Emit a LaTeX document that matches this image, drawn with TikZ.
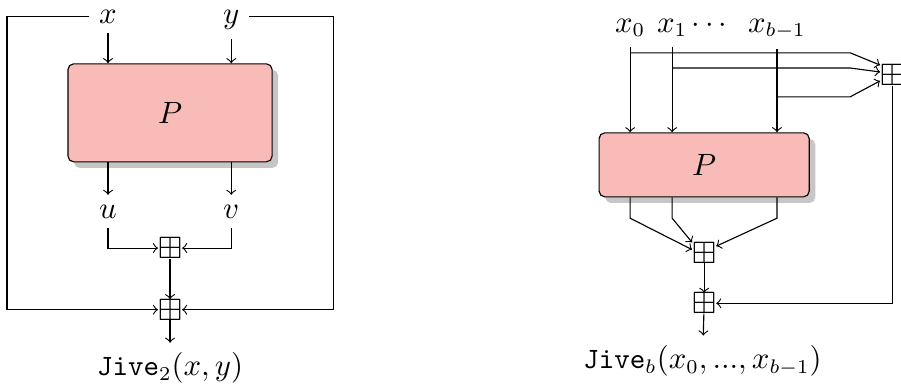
\documentclass[tikz,border=0pt]{standalone}
\usepackage{amsmath,amssymb}
\usetikzlibrary{shadows}
\definecolor{permpink}{HTML}{F8BBB8}

\begin{document}
\begin{tikzpicture}[x=1cm, y=1cm,
  every node/.style={font=\fontsize{10.5}{12.6}\selectfont},
  perm/.style={draw=black, fill=permpink, rounded corners=2pt, drop shadow={fill=gray!45, opacity=1}},
  add/.style={inner sep=0pt, outer sep=0pt, font=\fontsize{11}{13}\selectfont},
  lbl/.style={anchor=base},
  arr/.style={->}]

\useasboundingbox (0,0) rectangle (11.26,-4.84);

% two inputs
\node[lbl] at (1.35,-0.29) (x) {$x$};
\node[lbl] at (2.89,-0.29) (y) {$y$};
\node[perm, minimum width=2.55cm, minimum height=1.225cm] at (2.125,-1.41) (p) {$P$};
\node[lbl] at (1.35,-2.725) (u) {$u$};
\node[lbl] at (2.89,-2.725) (v) {$v$};
\node[add] at (2.125,-3.1) (s1) {$\boxplus$};
\node[add] at (2.125,-3.87) (s2) {$\boxplus$};
\node at (2.125,-4.6) (j2) {$\texttt{Jive}_2(x,y)$};
\coordinate (lft) at (0.0875,0);
\coordinate (rgt) at (4.1625,0);

\draw[arr] (x) -- (x |- p.north); \draw[arr] (y) -- (y |- p.north);
\draw[arr] (x |- p.south) -- (u); \draw[arr] (y |- p.south) -- (v);
\draw[arr] (u) |- (s1); \draw[arr] (v) |- (s1);
\draw[arr] (s1) -- (s2); \draw[arr] (s2) -- (j2);
\draw[arr] (x.west) -| (lft |- s2) -- (s2.west);
\draw[arr] (y.east |- x.west) -| (rgt |- s2) -- (s2.east);

% b inputs
\node[lbl] at (7.875,-0.4) (x0) {$x_0$};
\node[lbl] at (8.4,-0.4) (x1) {$x_1$};
\node[lbl] at (8.9,-0.4) (dots) {$\cdots$};
\node[lbl] at (9.71,-0.4) (xb) {$x_{b-1}$};
\node[perm, minimum width=2.625cm, minimum height=0.8cm] at (8.8,-2.06) (pb) {$P$};
\node[add] at (11.15,-0.94) (s3) {$\boxplus$};
\node[add] at (8.8,-3.16) (s4) {$\boxplus$};
\node[add] at (8.8,-3.79) (s5) {$\boxplus$};
\node at (8.78,-4.51) (jb) {$\texttt{Jive}_b(x_0, ..., x_{b-1})$};
\coordinate (t0) at (10.625,-0.66);
\coordinate (t1) at (10.625,-0.85);
\coordinate (tb) at (10.625,-1.21);

\draw[arr] (x0) -- (x0 |- pb.north); \draw[arr] (x1) -- (x1 |- pb.north); \draw[arr] (xb) -- (xb |- pb.north);
\draw[arr] (x0 |- t0) -- (t0) -- (s3.140);
\draw[arr] (x1 |- t1) -- (t1) -- (s3.165);
\draw[arr] (xb |- tb) -- (tb) -- (s3.205);
\draw[arr] (x0 |- pb.south) -- ++(0,-0.26) -- (s4.165);
\draw[arr] (x1 |- pb.south) -- ++(0,-0.26) -- (s4.north west);
\draw[arr] (xb |- pb.south) -- ++(0,-0.26) -- (s4.29);
\draw[arr] (s4) -- (s5); \draw[arr] (s5) -- (jb);
\draw[arr] (s3) |- (s5);
\end{tikzpicture}
\end{document}
